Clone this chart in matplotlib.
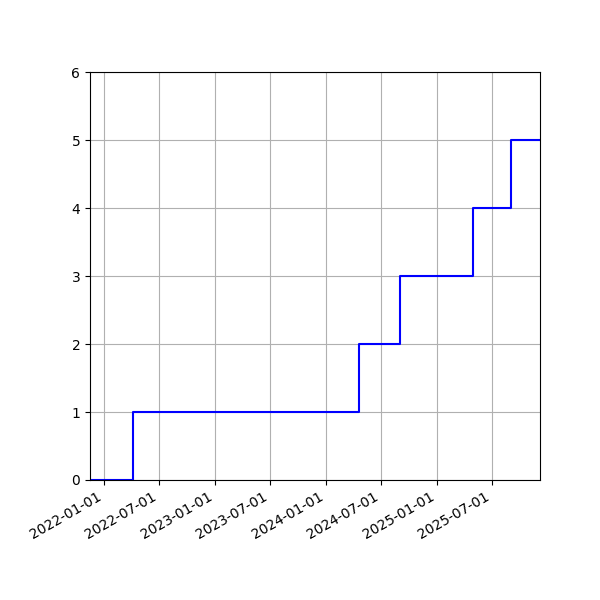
import matplotlib
matplotlib.use('Agg')
import matplotlib.pyplot as plt
import matplotlib.dates as mdates
import numpy as np

# step dates and cumulative counts
dates = ['2021-11-17', '2022-04-08', '2024-04-21', '2024-09-02',
         '2025-05-01', '2025-09-02', '2025-12-06']
counts = [0, 1, 2, 3, 4, 5, 5]

x = np.array(dates, dtype='datetime64[D]')

fig, ax = plt.subplots(figsize=(6, 6), dpi=100)
ax.plot(x, counts, drawstyle='steps-post', color='b')
ax.set_xlim(x[0], x[-1])
ax.set_ylim(0, 6)
ax.xaxis.set_major_formatter(mdates.DateFormatter('%Y-%m-%d'))
ax.grid(True)
fig.autofmt_xdate()
fig.subplots_adjust(left=0.15, right=0.9, top=0.88, bottom=0.2)
fig.savefig('out.png')
